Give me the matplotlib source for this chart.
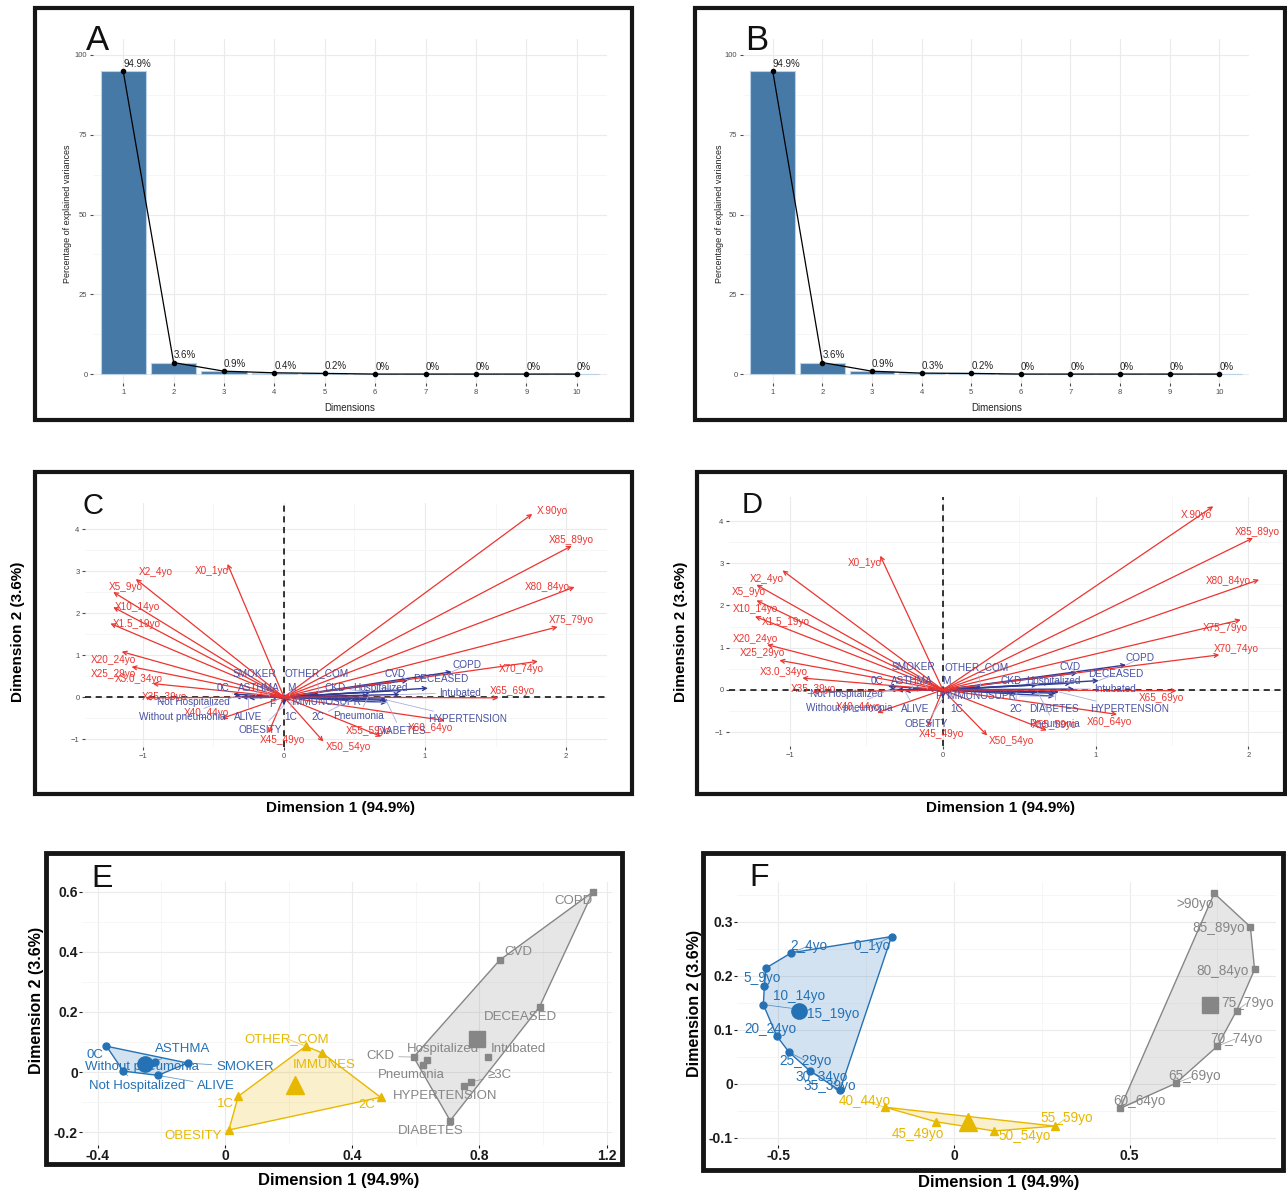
import matplotlib
matplotlib.use("Agg")
import matplotlib.pyplot as plt
from matplotlib.patches import Rectangle, Polygon
import numpy as np

plt.rcParams['font.family'] = ['Liberation Sans', 'DejaVu Sans']

W, H = 1287, 1195

# ---------------- scree plots (A, B)
dims = list(range(1, 11))
var_a = [94.9, 3.6, 0.9, 0.4, 0.2, 0.0, 0.0, 0.0, 0.0, 0.0]
var_b = [94.9, 3.6, 0.9, 0.3, 0.2, 0.0, 0.0, 0.0, 0.0, 0.0]

# ---------------- biplots (C, D)
age_names = ['X0_1yo', 'X2_4yo', 'X5_9yo', 'X10_14yo', 'X1.5_19yo', 'X20_24yo',
             'X25_29yo', 'X3.0_34yo', 'X35_39yo', 'X40_44yo', 'X45_49yo',
             'X50_54yo', 'X55_59yo', 'X60_64yo', 'X65_69yo', 'X70_74yo',
             'X75_79yo', 'X80_84yo', 'X85_89yo', 'X.90yo']
c_age_x = [-0.40, -1.05, -1.21, -1.21, -1.23, -1.15, -1.08, -0.93, -0.98, -0.44,
           -0.11, 0.28, 0.69, 1.14, 1.52, 1.80, 1.94, 2.06, 2.04, 1.76]
c_age_y = [3.17, 2.81, 2.50, 2.14, 1.75, 1.08, 0.72, 0.32, -0.02, -0.51,
           -0.86, -1.06, -0.94, -0.56, -0.02, 0.85, 1.67, 2.62, 3.60, 4.36]
d_age_x = [-0.41, -1.05, -1.22, -1.22, -1.23, -1.15, -1.07, -0.92, -0.85, -0.43,
           -0.10, 0.29, 0.68, 1.14, 1.53, 1.81, 1.95, 2.07, 2.03, 1.77]
d_age_y = [3.18, 2.83, 2.49, 2.12, 1.74, 1.07, 0.70, 0.28, -0.05, -0.54,
           -0.87, -1.08, -0.96, -0.58, -0.02, 0.83, 1.66, 2.61, 3.60, 4.35]

var_names = ['COPD', 'CVD', 'DECEASED', 'Hospitalized', 'CKD', 'Intubated',
             'HYPERTENSION', 'DIABETES', 'Pneumonia', 'IMMUNOSUPR', '2C', '1C',
             'F', 'M', 'OTHER_COM', 'SMOKER', 'ASTHMA', '0C', 'Not Hospitalized',
             'Without pneumonia', 'ALIVE', 'OBESITY']
c_var_x = [1.19, 0.88, 1.02, 0.84, 0.62, 0.82, 0.74, 0.72, 0.60, 0.73, 0.48, 0.05,
           -0.04, 0.04, 0.25, -0.10, -0.20, -0.36, -0.30, -0.35, -0.25, 0.00]
c_var_y = [0.60, 0.40, 0.21, 0.16, 0.12, 0.06, -0.08, -0.05, 0.03, -0.13, -0.06, -0.08,
           -0.03, 0.03, 0.07, 0.02, 0.03, 0.07, 0.00, 0.01, -0.02, -0.20]
d_var_x = [1.20, 0.88, 1.02, 0.84, 0.62, 0.86, 0.76, 0.74, 0.62, 0.73, 0.48, 0.05,
           -0.04, 0.04, 0.25, -0.10, -0.20, -0.36, -0.30, -0.35, -0.25, 0.00]
d_var_y = [0.59, 0.40, 0.22, 0.16, 0.12, 0.02, -0.05, -0.08, -0.05, -0.15, -0.06, -0.08,
           -0.03, 0.03, 0.07, 0.02, 0.03, 0.09, 0.00, 0.01, -0.02, -0.20]

# label placements (repelled text positions)
c_age_lx = [-0.51, -0.91, -1.12, -1.04, -1.04, -1.21, -1.21, -1.03, -0.85, -0.55,
            -0.01, 0.46, 0.60, 1.04, 1.62, 1.68, 2.04, 1.87, 2.04, 1.90]
c_age_ly = [3.01, 2.97, 2.63, 2.14, 1.73, 0.88, 0.56, 0.42, 0.01, -0.37,
            -1.02, -1.19, -0.82, -0.74, 0.14, 0.66, 1.83, 2.62, 3.74, 4.43]
d_age_lx = [-0.51, -1.15, -1.27, -1.23, -1.03, -1.23, -1.18, -1.04, -0.85, -0.55,
            -0.01, 0.45, 0.73, 1.09, 1.43, 1.92, 1.85, 1.87, 2.06, 1.66]
d_age_ly = [3.00, 2.62, 2.31, 1.92, 1.60, 1.21, 0.87, 0.43, 0.02, -0.40,
            -1.04, -1.21, -0.83, -0.75, -0.20, 0.96, 1.46, 2.59, 3.73, 4.15]
c_var_lx = [1.30, 0.79, 1.11, 0.68, 0.36, 1.25, 1.30, 0.83, 0.53, 0.30, 0.24, 0.05,
            -0.08, 0.05, 0.23, -0.21, -0.18, -0.43, -0.64, -0.72, -0.25, -0.17]
c_var_ly = [0.76, 0.56, 0.42, 0.21, 0.21, 0.10, -0.53, -0.82, -0.45, -0.11, -0.47, -0.47,
            -0.17, 0.21, 0.56, 0.55, 0.21, 0.21, -0.11, -0.47, -0.47, -0.78]
d_var_lx = [1.29, 0.83, 1.13, 0.72, 0.45, 1.13, 1.22, 0.73, 0.73, 0.25, 0.48, 0.09,
            -0.03, 0.02, 0.22, -0.19, -0.20, -0.43, -0.63, -0.61, -0.18, -0.11]
d_var_ly = [0.75, 0.54, 0.37, 0.21, 0.21, 0.02, -0.46, -0.46, -0.81, -0.14, -0.46, -0.46,
            -0.14, 0.22, 0.55, 0.55, 0.20, 0.22, -0.09, -0.43, -0.46, -0.81]

# ---------------- clusters (E)
e1_names = ['0C', 'SMOKER', 'ASTHMA', 'Without pneumonia', 'Not Hospitalized', 'ALIVE']
e1_x = [-0.373, -0.118, -0.220, -0.262, -0.320, -0.211]
e1_y = [0.086, 0.030, 0.035, 0.025, 0.003, -0.011]
e1_lx = [-0.41, 0.062, -0.133, -0.26, -0.276, -0.028]
e1_ly = [0.056, 0.017, 0.076, 0.017, -0.045, -0.045]

e2_names = ['OTHER_COM', 'IMMUNES', '1C', '2C', 'OBESITY']
e2_x = [0.254, 0.305, 0.041, 0.489, 0.012]
e2_y = [0.086, 0.064, -0.081, -0.084, -0.193]
e2_lx = [0.194, 0.312, 0.0, 0.447, -0.10]
e2_ly = [0.111, 0.025, -0.108, -0.111, -0.212]

e3_names = ['COPD', 'CVD', 'DECEASED', 'Intubated', 'Hospitalized', 'CKD',
            'Pneumonia', '≥3C', 'HYPERTENSION', 'DIABETES']
e3_x = [1.157, 0.864, 0.989, 0.828, 0.635, 0.593, 0.621, 0.773, 0.753, 0.708]
e3_y = [0.600, 0.373, 0.217, 0.050, 0.041, 0.050, 0.025, -0.033, -0.045, -0.162]
e3_lx = [1.095, 0.921, 0.929, 0.924, 0.684, 0.489, 0.585, 0.864, 0.693, 0.648]
e3_ly = [0.569, 0.401, 0.184, 0.076, 0.076, 0.052, -0.011, -0.011, -0.080, -0.195]

# ---------------- clusters (F)
f1_names = ['0_1yo', '2_4yo', '5_9yo', '10_14yo', '15_19yo', '20_24yo',
            '25_29yo', '30_34yo', '35_39yo']
f1_x = [-0.178, -0.463, -0.535, -0.540, -0.543, -0.505, -0.470, -0.410, -0.325]
f1_y = [0.273, 0.243, 0.215, 0.182, 0.147, 0.089, 0.059, 0.024, -0.012]
f1_lx = [-0.234, -0.412, -0.546, -0.441, -0.344, -0.523, -0.422, -0.378, -0.354]
f1_ly = [0.255, 0.256, 0.197, 0.163, 0.130, 0.102, 0.043, 0.013, -0.004]

f2_names = ['40_44yo', '45_49yo', '50_54yo', '55_59yo']
f2_x = [-0.197, -0.051, 0.115, 0.287]
f2_y = [-0.043, -0.070, -0.087, -0.078]
f2_lx = [-0.255, -0.104, 0.202, 0.322]
f2_ly = [-0.031, -0.092, -0.097, -0.063]

f3_names = ['>90yo', '85_89yo', '80_84yo', '75_79yo', '70_74yo', '65_69yo', '60_64yo']
f3_x = [0.741, 0.844, 0.856, 0.805, 0.750, 0.631, 0.473]
f3_y = [0.353, 0.291, 0.212, 0.136, 0.070, 0.001, -0.045]
f3_lx = [0.686, 0.755, 0.766, 0.835, 0.803, 0.684, 0.527]
f3_ly = [0.333, 0.289, 0.209, 0.150, 0.084, 0.015, -0.031]

RED = '#ec3430'
NAVY = '#2f3a94'
NAVY_TXT = '#4650a4'
BLUE = '#2471b5'
YELLOW = '#E7B800'
GREY = '#868686'

fig = plt.figure(figsize=(W / 100, H / 100), dpi=100)
fig.patch.set_facecolor('white')


def px_axes(x0, y0, x1, y1):
    return fig.add_axes([x0 / W, 1 - y1 / H, (x1 - x0) / W, (y1 - y0) / H])


def frame(x0, y0, x1, y1, lw=3.0):
    fig.patches.append(Rectangle((x0 / W, 1 - y1 / H), (x1 - x0) / W, (y1 - y0) / H,
                                 transform=fig.transFigure, fill=False, lw=lw,
                                 ec='#161616', zorder=20))


def ftext(x, y, s, **kw):
    fig.text(x / W, 1 - y / H, s, **kw)


def style(ax):
    ax.set_axisbelow(True)
    ax.grid(which='major', color='#ebebeb', lw=0.8)
    ax.grid(which='minor', color='#f3f3f3', lw=0.5)
    for s in ax.spines.values():
        s.set_visible(False)
    ax.tick_params(which='minor', length=0)


def hull(xs, ys):
    pts = sorted(zip(xs, ys))

    def cross(o, a, b):
        return (a[0] - o[0]) * (b[1] - o[1]) - (a[1] - o[1]) * (b[0] - o[0])
    lower, upper = [], []
    for p in pts:
        while len(lower) >= 2 and cross(lower[-2], lower[-1], p) <= 0:
            lower.pop()
        lower.append(p)
    for p in reversed(pts):
        while len(upper) >= 2 and cross(upper[-2], upper[-1], p) <= 0:
            upper.pop()
        upper.append(p)
    return lower[:-1] + upper[:-1]


def scree(box, vals):
    ax = px_axes(*box)
    ax.bar(dims, vals, width=0.9, color='#4779a7', edgecolor='#b9d2e8', lw=0.8, zorder=2)
    ax.plot(dims, vals, color='black', lw=0.9, marker='o', ms=3, zorder=3)
    for d, v in zip(dims, vals):
        ax.annotate(f'{v:g}%', (d, v), xytext=(0, 1.5), textcoords='offset points',
                    fontsize=7, ha='left', va='bottom', color='#222222', zorder=4)
    ax.set_xlim(0.4, 10.6)
    ax.set_ylim(-2.8, 105)
    ax.set_xticks(dims)
    ax.set_yticks([0, 25, 50, 75, 100])
    ax.set_yticks([12.5, 37.5, 62.5, 87.5], minor=True)
    style(ax)
    ax.tick_params(which='major', labelsize=5.5, colors='#4d4d4d', length=2.5,
                   width=0.8, pad=1.5)
    return ax


def biplot(box, ax_x, ax_y, lab_x, lab_y, v_x, v_y, vl_x, vl_y, xlim, ylim):
    ax = px_axes(*box)
    ax.set_xlim(*xlim)
    ax.set_ylim(*ylim)
    ax.set_xticks([-1, 0, 1, 2])
    ax.set_yticks([-1, 0, 1, 2, 3, 4])
    ax.set_xticks([-0.5, 0.5, 1.5], minor=True)
    ax.set_yticks([-0.5, 0.5, 1.5, 2.5, 3.5], minor=True)
    style(ax)
    ax.tick_params(which='major', labelsize=5.5, colors='#4d4d4d', length=2,
                   width=0.8, pad=2)
    ax.axhline(0, color='black', lw=1.1, ls=(0, (4, 3)), zorder=1)
    ax.axvline(0, color='black', lw=1.1, ls=(0, (4, 3)), zorder=1)
    for x, y in zip(v_x, v_y):
        ax.annotate('', xy=(x, y), xytext=(0, 0),
                    arrowprops=dict(arrowstyle='->', color=NAVY, lw=1.0,
                                    shrinkA=0, shrinkB=0, mutation_scale=7), zorder=2)
    for x, y in zip(ax_x, ax_y):
        ax.annotate('', xy=(x, y), xytext=(0, 0),
                    arrowprops=dict(arrowstyle='->', color=RED, lw=0.9,
                                    shrinkA=0, shrinkB=0, mutation_scale=7), zorder=3)
    for n, x, y, lx, ly in zip(var_names, v_x, v_y, vl_x, vl_y):
        ax.annotate(n, xy=(x, y), xytext=(lx, ly), ha='center', va='center',
                    fontsize=7.2, color=NAVY_TXT, zorder=4,
                    arrowprops=dict(arrowstyle='-', color='#a9addb', lw=0.6,
                                    shrinkA=1, shrinkB=0))
    for n, lx, ly in zip(age_names, lab_x, lab_y):
        ax.text(lx, ly, n, ha='center', va='center', fontsize=7.2, color=RED, zorder=4)
    return ax


def cluster(ax, names, xs, ys, lx, ly, color, marker, ms, cms, fs):
    hp = hull(xs, ys)
    ax.add_patch(Polygon(hp, closed=True, fc=color, ec='none', alpha=0.2, zorder=1))
    ax.add_patch(Polygon(hp, closed=True, fill=False, ec=color, lw=1.0, zorder=2))
    ax.plot(xs, ys, ls='none', marker=marker, ms=ms, color=color, zorder=3)
    ax.plot(np.mean(xs), np.mean(ys), marker=marker, ms=cms, color=color, zorder=3)
    for n, x, y, tx, ty in zip(names, xs, ys, lx, ly):
        ax.annotate(n, xy=(x, y), xytext=(tx, ty), ha='center', va='center',
                    fontsize=fs, color=color, zorder=4,
                    arrowprops=dict(arrowstyle='-', color=color, lw=0.6,
                                    shrinkA=1, shrinkB=0, alpha=0.7))


def cluster_axes(box, xlim, ylim, xt, xtl, xmin, yt, ytl, ymin):
    ax = px_axes(*box)
    ax.set_xlim(*xlim)
    ax.set_ylim(*ylim)
    ax.set_xticks(xt)
    ax.set_xticklabels(xtl, fontweight='bold')
    ax.set_yticks(yt)
    ax.set_yticklabels(ytl, fontweight='bold')
    ax.set_xticks(xmin, minor=True)
    ax.set_yticks(ymin, minor=True)
    style(ax)
    ax.tick_params(which='major', labelsize=10, colors='#1a1a1a', length=2,
                   width=0.8, pad=1)
    return ax


# ---- A / B
scree((93, 39, 607, 383), var_a)
scree((743, 39, 1249, 383), var_b)
frame(35, 8, 632, 420)
frame(695, 8, 1285, 420)
for x0, xc, letter in [(86, 350, 'A'), (745, 997, 'B')]:
    ftext(x0, 50, letter, fontsize=25, ha='left', va='baseline', color='#111111')
    ftext(xc, 408, 'Dimensions', fontsize=7, ha='center', va='center', color='#222222')
ftext(68, 214, 'Percentage of explained variances', fontsize=6.5, rotation=90,
      ha='center', va='center', color='#222222')
ftext(719, 214, 'Percentage of explained variances', fontsize=6.5, rotation=90,
      ha='center', va='center', color='#222222')

# ---- C / D
biplot((85, 503, 607, 747), c_age_x, c_age_y, c_age_lx, c_age_ly,
       c_var_x, c_var_y, c_var_lx, c_var_ly, (-1.41, 2.29), (-1.19, 4.62))
biplot((729, 497, 1282, 746), d_age_x, d_age_y, d_age_lx, d_age_ly,
       d_var_x, d_var_y, d_var_lx, d_var_ly, (-1.40, 2.22), (-1.33, 4.57))
frame(35, 472, 632, 794)
frame(697, 472, 1285, 794)
ftext(83, 514, 'C', fontsize=21, ha='left', va='baseline', color='#111111')
ftext(742, 513, 'D', fontsize=21, ha='left', va='baseline', color='#111111')
ftext(340, 808, 'Dimension 1 (94.9%)', fontsize=11, fontweight='bold', ha='center', va='center')
ftext(1000, 808, 'Dimension 1 (94.9%)', fontsize=11, fontweight='bold', ha='center', va='center')
ftext(18, 632, 'Dimension 2 (3.6%)', fontsize=11, fontweight='bold', rotation=90,
      ha='center', va='center')
ftext(681, 632, 'Dimension 2 (3.6%)', fontsize=11, fontweight='bold', rotation=90,
      ha='center', va='center')

# ---- E
axE = cluster_axes((82, 882, 612, 1145), (-0.45, 1.217), (-0.243, 0.633),
                   [-0.4, 0, 0.4, 0.8, 1.2], ['-0.4', '0', '0.4', '0.8', '1.2'],
                   [-0.2, 0.2, 0.6, 1.0],
                   [-0.2, 0, 0.2, 0.4, 0.6], ['-0.2', '0', '0.2', '0.4', '0.6'],
                   [-0.1, 0.1, 0.3, 0.5])
cluster(axE, e3_names, e3_x, e3_y, e3_lx, e3_ly, GREY, 's', 5, 11, 9.5)
cluster(axE, e2_names, e2_x, e2_y, e2_lx, e2_ly, YELLOW, '^', 5.5, 13, 9.5)
cluster(axE, e1_names, e1_x, e1_y, e1_lx, e1_ly, BLUE, 'o', 5, 11, 9.5)

# ---- F
axF = cluster_axes((737, 882, 1276, 1145), (-0.618, 0.917), (-0.113, 0.374),
                   [-0.5, 0, 0.5], ['-0.5', '0', '0.5'], [-0.25, 0.25, 0.75],
                   [-0.1, 0, 0.1, 0.2, 0.3], ['-0.1', '0', '0.1', '0.2', '0.3'],
                   [-0.05, 0.05, 0.15, 0.25, 0.35])
cluster(axF, f3_names, f3_x, f3_y, f3_lx, f3_ly, GREY, 's', 5, 11, 9.8)
cluster(axF, f2_names, f2_x, f2_y, f2_lx, f2_ly, YELLOW, '^', 5.5, 13, 9.8)
cluster(axF, f1_names, f1_x, f1_y, f1_lx, f1_ly, BLUE, 'o', 5, 11, 9.8)

frame(46, 853, 622, 1164, lw=3.5)
frame(703, 853, 1283, 1170, lw=3.5)
ftext(91, 887, 'E', fontsize=23, ha='left', va='baseline', color='#111111')
ftext(749, 886, 'F', fontsize=23, ha='left', va='baseline', color='#111111')
ftext(339, 1180, 'Dimension 1 (94.9%)', fontsize=12, fontweight='bold', ha='center', va='center')
ftext(999, 1183, 'Dimension 1 (94.9%)', fontsize=12, fontweight='bold', ha='center', va='center')
ftext(37, 1000, 'Dimension 2 (3.6%)', fontsize=11.5, fontweight='bold', rotation=90,
      ha='center', va='center')
ftext(695, 1003, 'Dimension 2 (3.6%)', fontsize=11.5, fontweight='bold', rotation=90,
      ha='center', va='center')

fig.savefig('out.png', dpi=100, facecolor='white')
